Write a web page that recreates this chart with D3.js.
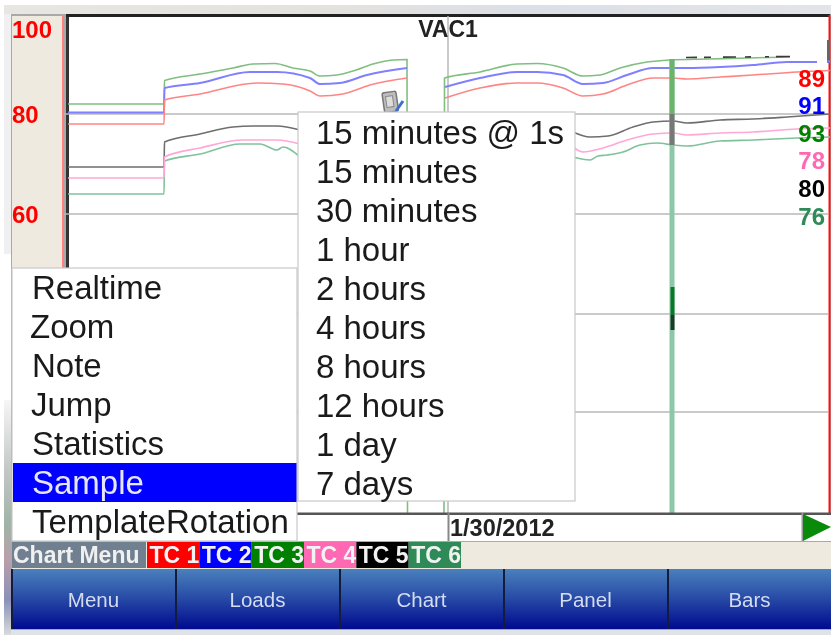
<!DOCTYPE html>
<html><head><meta charset="utf-8">
<script src="https://cdn.jsdelivr.net/npm/d3@7"></script>
<style>html,body{margin:0;padding:0;background:#fff}svg{display:block;filter:blur(.7px)}text{font-family:"Liberation Sans",Arial,sans-serif}</style>
</head><body><svg id="c" width="831" height="635"></svg>
<script>
// Data: [minutes along the trace, temperature]
const tc1 = [[[0,78],[96,78],[96.5,82.8],[132,84],[189,86.2],[215,86],[242,84.6],[252,83.6],[275,84],[302,85.8],[339,87.2]],
             [[377,83.2],[412,85.2],[449,86.2],[469,86.2],[495,85.2],[515,83.6],[535,84],[559,85.8],[585,87.2],[605,87.2],[619,87],[652,87.4],[685,87.8],[729,88.4],[762,88.7]]];
const tc2 = [[[0,80.3],[96,80.3],[96.5,85.2],[132,86.2],[182,88.4],[209,88.4],[242,87.2],[252,86],[272,86.2],[299,87.8],[339,89.2]],
             [[377,85.4],[412,87.2],[449,88.4],[469,88.4],[495,87.8],[515,86],[535,86.2],[559,87.8],[585,89.2],[605,89.2],[619,89.2],[652,89.4],[685,89.8],[719,90.4],[749,90.4]]];
const tc3 = [[[0,82],[96,82],[96.5,86.7],[132,88],[165,89.2],[185,90],[207,90.1],[225,89.2],[242,88.6],[252,87.6],[269,87.8],[285,88.6],[305,90],[325,90.8],[339,90.9],[339.5,0]],
             [[376,0],[376.5,87.2],[412,88.4],[449,90],[469,90.1],[495,89.2],[515,87.6],[532,87.8],[552,89.2],[579,90.4],[602,90.8],[640,91],[680,91.2],[722,91.4]]];
const tc4 = [[[0,67.2],[96,67.2],[96.5,71.4],[132,73.2],[175,74.8],[209,74.8],[232,74]],
             [[505,73.4],[515,72.4],[535,73.2],[559,74.8],[585,76],[605,76.2],[619,75.8],[652,76.2],[685,76.4],[729,77],[762,77.2]]];
const tc5 = [[[0,69.4],[96,69.4],[96.5,74.4],[132,76],[165,77.4],[185,77.6],[209,77.6],[232,76.8]],
             [[505,76.4],[522,75.4],[540,75.6],[565,77.4],[585,78.4],[605,78.6],[619,78.2],[652,78.8],[685,79],[719,79.4],[762,80]]];
const tc6 = [[[0,64],[96,64],[96.5,70.6],[132,72],[172,74],[192,74],[209,72.8],[215,73.4],[232,71.4]],
             [[505,71.4],[522,70.8],[530,71.6],[539,71.8],[555,72.4],[572,73.8],[589,74.2],[605,73.8],[619,73.6],[652,74.6],[685,74.8],[729,75.2],[762,75.4]]];
const noteDashes = [[618,91.3],[722,91.5]];
const yTicks = [100,80,60];
const gridValues = [80,60,40,20.4];
const cursorMinute = 604;
const cursorMarkA = [45.4,39.8];
const cursorMarkB = [39.8,36.8];
const seriesNames = ["TC 1","TC 2","TC 3","TC 4","TC 5","TC 6"];
const seriesColors = ["#ff0000","#0000ff","#008000","#ff69b4","#000000","#2e8b57"];
const lineColors = ["#ff8585","#8080ff","#80bf80","#ffa8d6","#6e6e6e","#80c29c"];
const currentValues = [89,91,93,78,80,76];
const menuLeft = ["Realtime","Zoom","Note","Jump","Statistics","Sample","TemplateRotation"];
const menuLeftX = [32,30,32,31,32,32,32];
const menuRight = ["15 minutes @ 1s","15 minutes","30 minutes","1 hour","2 hours","4 hours","8 hours","12 hours","1 day","7 days"];
const buttons = ["Menu","Loads","Chart","Panel","Bars"];

const svg = d3.select("#c");
const x = d3.scaleLinear().domain([0,760]).range([68,828]);
const y = d3.scaleLinear().domain([0,100]).range([514,14]);
const defs = svg.append("defs");
const grad = defs.append("linearGradient").attr("id","btn").attr("x1",0).attr("x2",0).attr("y1",0).attr("y2",1);
grad.append("stop").attr("offset",0).attr("stop-color","#4a80bd");
grad.append("stop").attr("offset",.45).attr("stop-color","#2a4fa8");
grad.append("stop").attr("offset",1).attr("stop-color","#000a90");
const topGrad = defs.append("linearGradient").attr("id","tp");
topGrad.append("stop").attr("offset",0).attr("stop-color","#e8e6e2");
topGrad.append("stop").attr("offset",.4).attr("stop-color","#e4e2df");
topGrad.append("stop").attr("offset",.62).attr("stop-color","#dcdfe6");
topGrad.append("stop").attr("offset",1).attr("stop-color","#e2e4e8");
const leftGrad = defs.append("linearGradient").attr("id","lf").attr("x1",0).attr("x2",0).attr("y1",0).attr("y2",1);
leftGrad.append("stop").attr("offset",0).attr("stop-color","#f6f6f6");
leftGrad.append("stop").attr("offset",.3).attr("stop-color","#c4c6c6");
leftGrad.append("stop").attr("offset",.52).attr("stop-color","#a0b4a8");
leftGrad.append("stop").attr("offset",.68).attr("stop-color","#b8a0aa");
leftGrad.append("stop").attr("offset",.85).attr("stop-color","#8a90b8");
leftGrad.append("stop").attr("offset",1).attr("stop-color","#d8dcdc");

const rect=(g,a,b,w,h,f)=>g.append("rect").attr("x",a).attr("y",b).attr("width",w).attr("height",h).attr("fill",f);
const txt=(g,a,b,s,size,f,o={})=>g.append("text").attr("x",a).attr("y",b).attr("font-size",size).attr("fill",f)
  .attr("font-weight",o.w||"normal").attr("text-anchor",o.a||"start").attr("dominant-baseline","central").text(s);

// Window surround
rect(svg,4,5,827,9,"url(#tp)");
rect(svg,4,630,827,5,"#dfe3e6");
rect(svg,4,14,7,240,"#f0f0f0");
rect(svg,4,400,7,235,"url(#lf)");
rect(svg,11,14,820,616,"#a9a9a9");

// Axis panel and plot
rect(svg,12,16,51,252,"#efeadf");
rect(svg,68,16,761,497,"#ffffff");
rect(svg,62,15,2,255,"#ff8080");
rect(svg,66,15,3,255,"#333333");
rect(svg,66,14,764,3,"#222222");
rect(svg,828.5,15,2,498,"#ff1010");

// Grid
const grid = svg.append("g");
grid.selectAll("line").data(gridValues).join("line")
  .attr("x1",64).attr("x2",828).attr("y1",d=>y(d)).attr("y2",d=>y(d)).attr("stroke","#b8b8b8").attr("stroke-width",1.3);
grid.append("line").attr("x1",448).attr("x2",448).attr("y1",16).attr("y2",513).attr("stroke","#b8b8b8").attr("stroke-width",1.5);

// Y tick labels
svg.append("g").selectAll("text").data(yTicks).join("text")
  .attr("x",12).attr("y",d=>d===100?29:y(d)).attr("font-size",24).attr("font-weight","bold").attr("fill","#ff0000")
  .attr("dominant-baseline","central").text(d=>d);
txt(svg,448,29,"VAC1",23,"#222",{w:"bold",a:"middle"});

// Traces
const line = d3.line().curve(d3.curveMonotoneX).x(d=>x(d[0])).y(d=>y(d[1]));
[tc6,tc5,tc4,tc3,tc2,tc1].forEach((segs,i)=>{
  const k = 5-i;
  svg.append("g").selectAll("path").data(segs).join("path").attr("d",line).attr("fill","none")
    .attr("stroke",lineColors[k]).attr("stroke-width",k===1?2:1.6);
});
svg.append("path").datum(noteDashes).attr("d",line).attr("fill","none").attr("stroke","#3a3a3a")
  .attr("stroke-width",1.6).attr("stroke-dasharray","11 7 7 12 13 9 6 14 4 7 14 3");

// Cursor
const cx = x(cursorMinute);
rect(svg,cx-2.5,y(91),5,y(0)-1-y(91),"#8cc8a8");
rect(svg,cx-2.5,y(91),5,y(80)-y(91),"#6cb36c");
rect(svg,cx-2.5,y(80),5,y(73.8)-y(80),"#777777");
rect(svg,cx-1.5,y(cursorMarkA[0]),4,y(cursorMarkA[1])-y(cursorMarkA[0]),"#0a7a2a");
rect(svg,cx-1.5,y(cursorMarkB[0]),4,y(cursorMarkB[1])-y(cursorMarkB[0]),"#1c3a28");

// Note icon
const icon = svg.append("g").attr("transform","rotate(-8 390 100)");
rect(icon,383,92,14,20,"#bdbdbd").attr("stroke","#777").attr("stroke-width",1.5).attr("rx",2);
rect(icon,386,96,7,11,"#dddddd").attr("stroke","#888");
svg.append("line").attr("x1",396).attr("y1",111).attr("x2",403).attr("y2",101).attr("stroke","#3a6fd0").attr("stroke-width",3);
// Edge marker at the right of the plot
rect(svg,827,40,3,20,"#666");
rect(svg,827,60,3,3,"#6a7ae0");

// Current values
svg.append("g").selectAll("text").data(currentValues).join("text")
  .attr("x",825).attr("y",(d,i)=>78+i*27.6).attr("text-anchor","end").attr("font-size",24).attr("font-weight","bold")
  .attr("dominant-baseline","central").attr("fill",(d,i)=>seriesColors[i]).text(d=>d);

// Date bar
rect(svg,297,512.5,534,2.5,"#555");
rect(svg,297,515,534,26,"#fff");
rect(svg,447.5,513,2,28,"#888");
txt(svg,450,528,"1/30/2012",23.5,"#222",{w:"bold"});
rect(svg,801.5,513,2,28,"#999");
svg.append("path").attr("d",d3.line()([[803,514],[831,527],[803,541]])).attr("fill","#0a8a0a");

// Legend strip
rect(svg,12,542,819,27,"#efeadf");
rect(svg,12,542,134,26,"#708090");
txt(svg,13,555,"Chart Menu",23,"#f0f0f0",{w:"bold"});
const chipX = d3.scaleLinear().domain([0,6]).range([147,461]);
const chips = svg.append("g").selectAll("g").data(seriesNames).join("g");
chips.append("rect").attr("x",(d,i)=>chipX(i)).attr("y",542).attr("width",(d,i)=>chipX(i+1)-chipX(i)).attr("height",26)
  .attr("fill",(d,i)=>seriesColors[i]);
chips.append("text").attr("x",(d,i)=>chipX(i+1)).attr("y",555).attr("text-anchor","end").attr("dominant-baseline","central")
  .attr("font-size",23).attr("font-weight","bold").attr("fill","#f2f2f2").text(d=>d);

// Buttons
const bx = d3.scaleLinear().domain([0,5]).range([12,832]);
const bg = svg.append("g").selectAll("g").data(buttons).join("g");
bg.append("rect").attr("x",(d,i)=>bx(i)).attr("y",569).attr("width",164).attr("height",60).attr("fill","url(#btn)");
bg.append("line").attr("x1",(d,i)=>bx(i)).attr("x2",(d,i)=>bx(i)).attr("y1",569).attr("y2",629).attr("stroke","#141c3c").attr("stroke-width",2);
bg.append("text").attr("x",(d,i)=>bx(i)+81.5).attr("y",599).attr("text-anchor","middle").attr("dominant-baseline","central")
  .attr("font-size",20.5).attr("fill","#d4dcf0").text(d=>d);

// Popup menus
rect(svg,298,112,277,389,"#fff").attr("stroke","#c8c8c8").attr("stroke-width",1.2);
svg.append("g").selectAll("text").data(menuRight).join("text")
  .attr("x",316).attr("y",(d,i)=>132+i*39).attr("font-size",33).attr("fill","#1a1a1a").attr("dominant-baseline","central").text(d=>d);
rect(svg,12,268,285,273,"#fff").attr("stroke","#c8c8c8").attr("stroke-width",1.2);
rect(svg,13,463,283.5,39,"#0000ff");
svg.append("g").selectAll("text").data(menuLeft).join("text")
  .attr("x",(d,i)=>menuLeftX[i]).attr("y",(d,i)=>287+i*39).attr("font-size",33)
  .attr("fill",d=>d==="Sample"?"#e6e6ff":"#1a1a1a").attr("dominant-baseline","central").text(d=>d);
</script></body></html>
